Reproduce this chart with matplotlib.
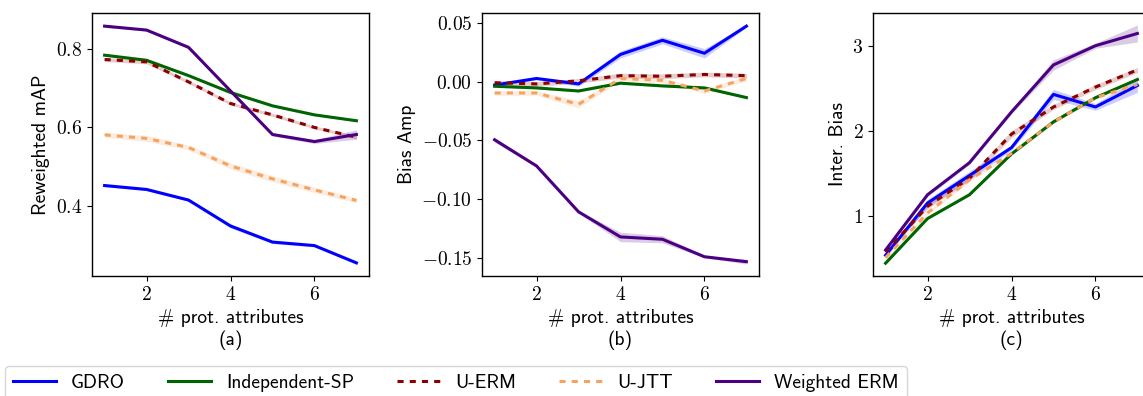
import matplotlib
matplotlib.use("Agg")
import matplotlib.pyplot as plt
from matplotlib.ticker import FuncFormatter, MultipleLocator
import numpy as np

plt.rcParams['font.family'] = ['cmss10', 'DejaVu Sans']
plt.rcParams['mathtext.fontset'] = 'cm'
plt.rcParams['axes.unicode_minus'] = True
plt.rcParams['font.size'] = 14

x_attrs = [1, 2, 3, 4, 5, 6, 7]
methods = ["GDRO", "Independent-SP", "U-ERM", "U-JTT", "Weighted ERM"]

# Panel (a): Reweighted mAP
map_gdro = [0.451, 0.441, 0.414, 0.348, 0.307, 0.298, 0.254]
map_indep = [0.783, 0.770, 0.731, 0.688, 0.654, 0.631, 0.616]
map_uerm = [0.772, 0.766, 0.715, 0.660, 0.631, 0.599, 0.574]
map_ujtt = [0.580, 0.571, 0.548, 0.501, 0.468, 0.440, 0.413]
map_werm = [0.857, 0.847, 0.803, 0.692, 0.581, 0.563, 0.581]
map_gdro_sd = [0.003, 0.003, 0.003, 0.005, 0.004, 0.003, 0.003]
map_indep_sd = [0.002, 0.002, 0.002, 0.002, 0.002, 0.002, 0.002]
map_uerm_sd = [0.005, 0.005, 0.004, 0.004, 0.004, 0.004, 0.004]
map_ujtt_sd = [0.006, 0.008, 0.006, 0.008, 0.008, 0.007, 0.006]
map_werm_sd = [0.003, 0.003, 0.003, 0.003, 0.004, 0.005, 0.012]

# Panel (b): Bias Amp
ba_gdro = [-0.003, 0.0026, -0.002, 0.023, 0.035, 0.024, 0.047]
ba_indep = [-0.004, -0.0054, -0.008, -0.0014, -0.0037, -0.0054, -0.0136]
ba_uerm = [-0.001, -0.002, 0.0006, 0.005, 0.0045, 0.006, 0.005]
ba_ujtt = [-0.0097, -0.0097, -0.0193, 0.0026, 0.001, -0.008, 0.0026]
ba_werm = [-0.0494, -0.0716, -0.1105, -0.1318, -0.1338, -0.1486, -0.1528]
ba_gdro_sd = [0.001, 0.001, 0.002, 0.003, 0.003, 0.004, 0.001]
ba_indep_sd = [0.0008, 0.0008, 0.0008, 0.0008, 0.0008, 0.0008, 0.0008]
ba_uerm_sd = [0.002, 0.002, 0.002, 0.002, 0.002, 0.002, 0.002]
ba_ujtt_sd = [0.002, 0.002, 0.003, 0.002, 0.002, 0.002, 0.002]
ba_werm_sd = [0.002, 0.001, 0.001, 0.004, 0.003, 0.001, 0.002]

# Panel (c): Inter. Bias
ib_gdro = [0.537, 1.152, 1.475, 1.802, 2.428, 2.280, 2.533]
ib_indep = [0.444, 0.969, 1.249, 1.728, 2.105, 2.389, 2.603]
ib_uerm = [0.576, 1.113, 1.444, 1.961, 2.280, 2.514, 2.716]
ib_ujtt = [0.510, 1.035, 1.424, 1.735, 2.105, 2.389, 2.545]
ib_werm = [0.599, 1.249, 1.626, 2.222, 2.774, 3.000, 3.144]
ib_gdro_sd = [0.02, 0.04, 0.05, 0.03, 0.06, 0.04, 0.08]
ib_indep_sd = [0.01, 0.01, 0.01, 0.01, 0.01, 0.01, 0.01]
ib_uerm_sd = [0.02, 0.03, 0.03, 0.04, 0.03, 0.03, 0.03]
ib_ujtt_sd = [0.02, 0.02, 0.02, 0.02, 0.02, 0.02, 0.02]
ib_werm_sd = [0.02, 0.02, 0.02, 0.02, 0.06, 0.03, 0.10]

colors = ["#0000ff", "#006400", "#8b0000", "#f4a460", "#4b0082"]
styles = ["-", "-", (0, (2, 2)), (0, (2, 2)), "-"]

panels = [
    ("Reweighted mAP", "(a)", [map_gdro, map_indep, map_uerm, map_ujtt, map_werm],
     [map_gdro_sd, map_indep_sd, map_uerm_sd, map_ujtt_sd, map_werm_sd], "{:.1f}", 0.2),
    ("Bias Amp", "(b)", [ba_gdro, ba_indep, ba_uerm, ba_ujtt, ba_werm],
     [ba_gdro_sd, ba_indep_sd, ba_uerm_sd, ba_ujtt_sd, ba_werm_sd], "{:.2f}", 0.05),
    ("Inter. Bias", "(c)", [ib_gdro, ib_indep, ib_uerm, ib_ujtt, ib_werm],
     [ib_gdro_sd, ib_indep_sd, ib_uerm_sd, ib_ujtt_sd, ib_werm_sd], "{:.0f}", 1.0),
]

W, H = 1143, 396
fig = plt.figure(figsize=(W / 100, H / 100), dpi=100)
lefts = [92, 482, 873]
axw = 277
top, bottom = 13, 276

handles = []
for i, (ylab, tag, series, sds, fmt, step) in enumerate(panels):
    ax = fig.add_axes([lefts[i] / W, 1 - bottom / H, axw / W, (bottom - top) / H])
    xs = np.array(x_attrs)
    for j, (vals, sd) in enumerate(zip(series, sds)):
        v = np.array(vals)
        s = np.array(sd)
        ax.fill_between(xs, v - s, v + s, color=colors[j], alpha=0.2, lw=0)
        ln, = ax.plot(xs, v, color=colors[j], linestyle=styles[j], lw=2.2, label=methods[j])
        if i == 0:
            handles.append(ln)
    ax.set_ylabel(ylab)
    ax.set_xlabel("# prot. attributes\n" + tag)
    ax.xaxis.set_major_locator(MultipleLocator(2))
    ax.yaxis.set_major_locator(MultipleLocator(step))
    ax.xaxis.set_major_formatter(FuncFormatter(lambda v, p: "$%d$" % round(v)))
    ax.yaxis.set_major_formatter(FuncFormatter(lambda v, p, f=fmt: "$" + f.format(v) + "$"))
    for sp in ax.spines.values():
        sp.set_linewidth(1.0)

fig.legend(handles=handles, loc="upper left", bbox_to_anchor=(5 / W, 1 - 366 / H),
           ncol=5, handlelength=2.2, columnspacing=2.2, borderaxespad=0, fontsize=14)

fig.savefig("out.png", dpi=100)
